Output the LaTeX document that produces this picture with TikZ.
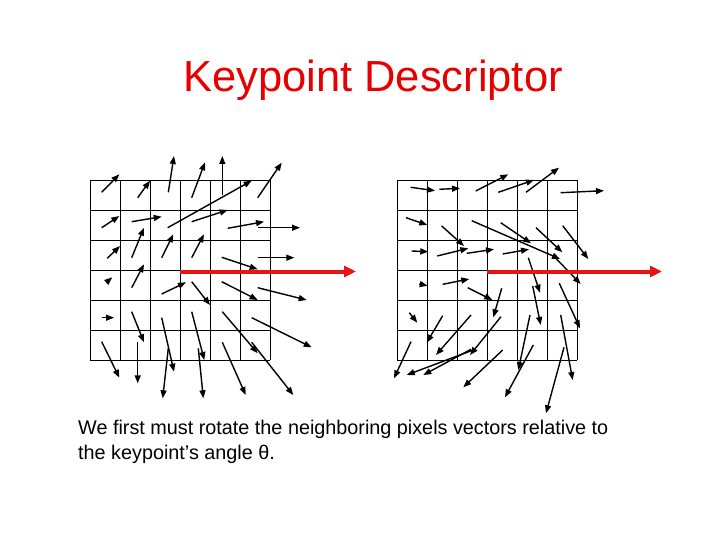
\documentclass[tikz,border=0pt]{standalone}
\usepackage{fontspec}
\setmainfont{Liberation Sans}
\usetikzlibrary{arrows.meta}
\begin{document}
\begin{tikzpicture}[x=1pt,y=-1pt,
  vec/.style={line width=1.4pt,-{Triangle[length=8pt,width=6pt]}},
  rot/.style={line width=4pt,draw={rgb,255:red,230;green,20;blue,20},-{Triangle[length=12pt,width=11pt]}},
  gridline/.style={line width=0.8pt}]
\useasboundingbox (0,0) rectangle (720,540);
\node[text={rgb,255:red,230;green,0;blue,0},font=\fontsize{43.5}{46}\selectfont] (title) at (373,80) {Keypoint Descriptor};
\foreach \i in {0,...,6} {
  \draw[gridline] (90+30*\i,180) -- (90+30*\i,360);
  \draw[gridline] (90,180+30*\i) -- (270,180+30*\i);
  \draw[gridline] (397+30*\i,180) -- (397+30*\i,360);
  \draw[gridline] (397,180+30*\i) -- (577,180+30*\i);
}
% left arrows
\foreach \a/\b/\c/\d in {
101.7/192.3/119.3/174.3, 137.7/197.7/150/180.7, 168.3/192.3/174/156, 191.7/197.7/205/162.3,
222.3/195/222.3/156, 257.7/197.7/281.7/162.7, 101.7/227.7/119.3/216, 131.7/221.7/161.7/216.7,
167.7/227.7/251.7/180.7, 191.7/221.7/227.7/210, 227.7/228.3/264/221.7, 258.3/227.7/300/227.7,
107.3/258.3/120/246, 131.7/257.7/144/227.7, 161.7/257.7/173.3/234.3, 191.7/257.7/204/234.3,
221.7/257.3/257.7/269.3, 258.3/257.7/294.3/257.7, 108/281/112.3/277.3, 131.7/287.7/144/264.3,
161.7/294/186/282.3, 191.7/281.7/210/305, 221.7/281.7/257.7/300, 257.7/287.7/306.7/300,
102.3/317.7/114/317.7, 131.7/311.7/144/342.3, 161.7/317.7/174/371.7, 191.7/311.7/204.3/360,
222.3/311.7/257.7/353.3, 251.7/317.7/311.7/347.3, 101.7/341.7/119.3/377.7, 137.7/342.3/137.7/383.3,
168.3/348.3/162.7/398.3, 198.3/348.3/203.3/398.3, 222.3/342.3/245.7/395, 251.7/342.3/293.3/395}
  \draw[vec] (\a,\b) -- (\c,\d);
% right arrows
\foreach \a/\b/\c/\d in {
410.7/187.3/435/190.7, 439.3/189.3/460/188.3, 475.7/191/508.3/174.3, 498.3/192.3/534/180,
526/192.3/559/167.7, 560.7/192.7/604/190.7, 406/217.7/427.3/225, 441.7/226/464/246,
471.7/220.7/560/259, 500.7/222.7/531/243.3, 536/227.7/562.3/252.3, 562.7/225.7/588.3/259,
411.7/251/428.3/251.7, 437.3/256/468.3/248.3, 466.7/253.3/494/249.3, 502.7/254/529/249.3,
553.3/255.7/580.7/284, 419.3/284/427.7/285.7, 442.7/284.3/469.3/279, 467.7/287.7/492.3/300,
528.3/257.7/540/292.7, 409.3/312.7/417.3/322.7, 442.7/315.7/426.7/342.7, 471/315/436/355,
475/349.3/406.7/375, 471/349.3/423.3/375, 501/316.7/470/355, 502.7/350/463.3/387.3,
411/341.7/394/378.3, 501.7/288.3/493.3/317.3, 530/315/518.3/370, 533.3/345/505/397.3,
532.7/286/540.7/325, 560.7/315/572.7/380, 564/347.3/546/413.3, 559.3/283.3/580/328.3}
  \draw[vec] (\a,\b) -- (\c,\d);
\coordinate (l1) at (180,271.5); \coordinate (l2) at (356,271.5);
\coordinate (r1) at (487,271.5); \coordinate (r2) at (662,271.5);
\draw[rot] (l1) -- (l2);
\draw[rot] (r1) -- (r2);
\node[anchor=north west,align=left,font=\fontsize{19.8}{25}\selectfont,inner sep=0] (txt) at (78,420)
  {We first must rotate the neighboring pixels vectors relative to\\the keypoint’s angle θ.};
\end{tikzpicture}
\end{document}
